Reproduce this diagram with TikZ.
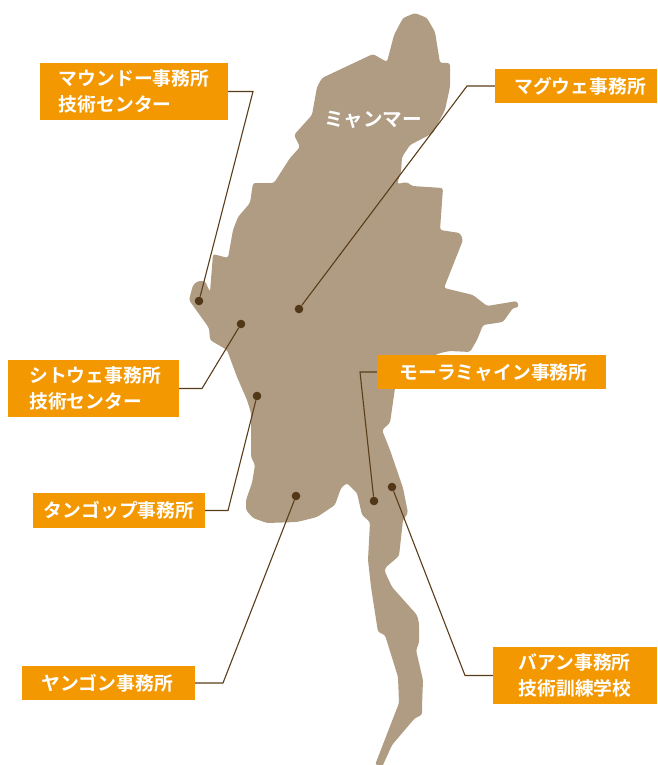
\documentclass[tikz,border=0pt]{standalone}
\usepackage{fontspec}
\setmainfont{Noto Sans CJK JP}[BoldFont={Noto Sans CJK JP Bold}]
\definecolor{landc}{HTML}{AF9C82}
\definecolor{boxc}{HTML}{F39800}
\definecolor{linec}{HTML}{5A3D1A}
\tikzset{
  officebox/.style={fill=boxc,text=white,inner sep=0pt,align=left,font=\bfseries\fontsize{18.8}{26}\selectfont},
  dotmark/.style={circle,fill=linec!90!black,minimum size=8.6pt,inner sep=0pt},
  leader/.style={draw=linec,line width=1.1pt,line join=miter},
}
\begin{document}
\begin{tikzpicture}[x=1pt,y=-1pt]
\useasboundingbox (0,0) rectangle (657,765);
\fill[landc,rounded corners=2.5pt]
 (415,13) -- (403,18) -- (394,35) -- (387,62) -- (373,54) -- (322,78) -- (317,87) -- (312,115) -- (294,135) -- (300,147) -- (290,158) -- (274,183) -- (253,183) -- (250,203) -- (238,217) -- (233,230) -- (228,258) -- (213,254) -- (210,292) -- (205,281) -- (198,281) -- (193,285) -- (189,300) -- (209,328) -- (210,340)
 -- (227,350) -- (237,377) -- (247,400) -- (251,413) -- (251,457) -- (255,465) -- (252,483) -- (246,500) -- (246,510) -- (253,518) -- (267,523) -- (297,522) -- (317,517) -- (335,505) -- (341,488) -- (347,483) -- (357,493) -- (362,515) -- (370,522)
 -- (368,560) -- (371,587) -- (378,632) -- (385,635) -- (398,677) -- (399,703) -- (375,765) [sharp corners] -- (383,765) [rounded corners=2.5pt] -- (392,745) -- (415,718) -- (422,715) -- (422,707) -- (423,680) -- (416,650) -- (419,643) -- (419,623) -- (417,615) -- (392,587) -- (385,572) -- (385,568) -- (399,556) -- (403,520) -- (408,513) -- (403,488) -- (390,450) -- (382,430) -- (390,423) -- (395,388) -- (400,370) -- (420,362) -- (440,353) -- (450,351) -- (470,352) -- (477,340) -- (483,325) -- (503,322) -- (513,308) -- (519,307) -- (517,301) -- (487,306) -- (473,295) -- (444,288) -- (463,240) -- (460,233) -- (440,230) -- (443,188) -- (412,186) -- (407,182) -- (397,184) -- (401,172) -- (402,157) -- (410,145) -- (433,133) -- (445,110) -- (450,87) -- (450,63) -- (440,63) -- (435,32) -- (427,18) -- cycle;

\node[text=white,font=\bfseries\fontsize{19.6}{22}\selectfont] (country) at (373,120) {ミャンマー};

\node[officebox,minimum width=188pt,minimum height=57pt] (maung) at (134,91.5) {マウンドー事務所\\技術センター};
\node[officebox,minimum width=162pt,minimum height=34pt] (magway) at (576,86) {\hspace*{8pt}マグウェ事務所};
\node[officebox,minimum width=171pt,minimum height=57pt] (sittwe) at (93.5,388.5) {\hspace*{3pt}シトウェ事務所\\\hspace*{3pt}技術センター};
\node[officebox,minimum width=229pt,minimum height=34pt] (mawla) at (491.5,372) {\hspace*{4pt}モーラミャイン事務所};
\node[officebox,minimum width=172pt,minimum height=35pt] (taung) at (119,510.5) {タンゴップ事務所};
\node[officebox,minimum width=173pt,minimum height=34pt] (yangon) at (108.5,683) {ヤンゴン事務所\hspace*{3pt}};
\node[officebox,minimum width=164pt,minimum height=57pt] (hpaan) at (575,675.5) {バアン事務所\\技術訓練学校};

\node[dotmark] (d1) at (199,301) {};
\node[dotmark] (d2) at (299,309) {};
\node[dotmark] (d3) at (241,324) {};
\node[dotmark] (d4) at (374,501) {};
\node[dotmark] (d5) at (257,396) {};
\node[dotmark] (d6) at (296,496) {};
\node[dotmark] (d7) at (392,487) {};

\coordinate (b1) at (253,91.5);
\coordinate (b2) at (467,86);
\coordinate (b3) at (202,388.5);
\coordinate (b4) at (360,372);
\coordinate (b5) at (228,510.5);
\coordinate (b6) at (223,683);
\coordinate (b7) at (465,675.5);

\draw[leader] (maung.east) -- (b1) -- (d1);
\draw[leader] (magway.west) -- (b2) -- (d2);
\draw[leader] (sittwe.east) -- (b3) -- (d3);
\draw[leader] (mawla.west) -- (b4) -- (d4);
\draw[leader] (taung.east) -- (b5) -- (d5);
\draw[leader] (yangon.east) -- (b6) -- (d6);
\draw[leader] (hpaan.west) -- (b7) -- (d7);
\end{tikzpicture}
\end{document}
